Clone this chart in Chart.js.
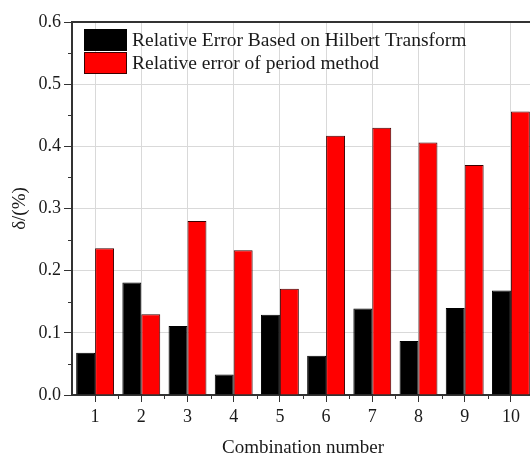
<!DOCTYPE html>
<html>
<head>
    <title>Relative error chart</title>
    <meta charset="UTF-8">
    <script src="https://cdn.jsdelivr.net/npm/chart.js"></script>
    <style>
        body { margin: 0; overflow: hidden; background: #fff; }
        /* chart is a bit wider than the window, the right edge gets cut like the source */
        #chartContainer { width: 560px; height: 457px; }
    </style>
</head>
<body>
    <div id="chartContainer">
        <canvas id="barChart"></canvas>
    </div>

    <script>
        var categories = ['1', '2', '3', '4', '5', '6', '7', '8', '9', '10'];
        var hilbertError = [0.068, 0.181, 0.111, 0.033, 0.129, 0.063, 0.139, 0.087, 0.140, 0.168];
        var periodError = [0.236, 0.130, 0.280, 0.233, 0.171, 0.417, 0.430, 0.406, 0.370, 0.456];
        var yTicks = [0.0, 0.1, 0.2, 0.3, 0.4, 0.5, 0.6];

        var serif = "'Liberation Serif', 'Times New Roman', serif";
        var ink = '#1a1a1a';

        function isMajor(value) {
            return yTicks.indexOf(Math.round(value * 100) / 100) >= 0;
        }

        // legend inside the plot + top frame line + minor ticks on both axes
        var framePlugin = {
            id: 'frame',
            afterDraw: function (chart) {
                var ctx = chart.ctx;
                var area = chart.chartArea;
                var y = chart.scales.y;
                ctx.save();
                ctx.strokeStyle = '#333';
                ctx.lineWidth = 2;
                ctx.beginPath();
                ctx.moveTo(area.left, area.top);
                ctx.lineTo(area.right, area.top);
                ctx.stroke();

                ctx.lineWidth = 1;
                var step = (area.right - area.left) / categories.length;
                for (var k = 1; k < categories.length; k++) {
                    var px = Math.round(area.left + k * step) + 0.5;
                    ctx.beginPath();
                    ctx.moveTo(px, area.bottom);
                    ctx.lineTo(px, area.bottom + 4);
                    ctx.stroke();
                }
                y.ticks.forEach(function (t) {
                    if (isMajor(t.value)) return;
                    var py = Math.round(y.getPixelForValue(t.value)) + 0.5;
                    ctx.beginPath();
                    ctx.moveTo(area.left, py);
                    ctx.lineTo(area.left - 4, py);
                    ctx.stroke();
                });

                // legend
                ctx.font = '19.5px ' + serif;
                ctx.textBaseline = 'middle';
                chart.data.datasets.forEach(function (ds, i) {
                    var bx = area.left + 12;
                    var by = area.top + 7 + i * 23;
                    ctx.fillStyle = ds.backgroundColor;
                    ctx.fillRect(bx, by, 43, 22);
                    ctx.strokeStyle = ds.borderColor;
                    ctx.strokeRect(bx + 0.5, by + 0.5, 42, 21);
                    ctx.fillStyle = ink;
                    ctx.fillText(ds.label, bx + 48, by + 12);
                });
                ctx.restore();
            }
        };

        var ctx = document.getElementById('barChart').getContext('2d');
        var chart = new Chart(ctx, {
            type: 'bar',
            data: {
                labels: categories,
                datasets: [{
                    label: 'Relative Error Based on Hilbert Transform',
                    data: hilbertError,
                    backgroundColor: '#000000',
                    borderColor: '#000000',
                    borderWidth: 1
                }, {
                    label: 'Relative error of period method',
                    data: periodError,
                    backgroundColor: '#ff0000',
                    borderColor: '#3a0000',
                    borderWidth: 1
                }]
            },
            options: {
                responsive: true,
                maintainAspectRatio: false,
                animation: false,
                layout: { padding: { top: 22, right: 26, left: 0, bottom: 0 } },
                datasets: {
                    bar: { categoryPercentage: 0.82, barPercentage: 1.0 }
                },
                plugins: {
                    legend: { display: false },
                    tooltip: { enabled: false }
                },
                scales: {
                    x: {
                        afterFit: function (scale) { scale.height = 62; },
                        grid: {
                            offset: false,
                            color: '#d9d9d9',
                            tickColor: '#333',
                            tickLength: 7
                        },
                        border: { color: '#333', width: 2 },
                        ticks: {
                            color: ink,
                            padding: 4,
                            font: { family: serif, size: 18 }
                        },
                        title: {
                            display: true,
                            text: 'Combination number',
                            color: ink,
                            padding: { top: 0, bottom: 0 },
                            font: { family: serif, size: 19, lineHeight: 0.9 }
                        }
                    },
                    y: {
                        min: 0,
                        max: 0.6,
                        afterFit: function (scale) { scale.width = 72; },
                        ticks: {
                            stepSize: 0.05,
                            color: ink,
                            padding: 3,
                            font: { family: serif, size: 18 },
                            callback: function (value) {
                                return isMajor(value) ? (Math.round(value * 10) / 10).toFixed(1) : '';
                            }
                        },
                        grid: {
                            color: function (c) {
                                return isMajor(c.tick.value) && c.tick.value > 0.001 ? '#d9d9d9' : 'rgba(0,0,0,0)';
                            },
                            tickColor: function (c) {
                                return isMajor(c.tick.value) ? '#333' : 'rgba(0,0,0,0)';
                            },
                            tickLength: 8
                        },
                        border: { color: '#333', width: 2 },
                        title: {
                            display: true,
                            text: 'δ/(%)',
                            color: ink,
                            padding: { top: 9, bottom: 0 },
                            font: { family: serif, size: 19 }
                        }
                    }
                }
            },
            plugins: [framePlugin]
        });
    </script>
</body>
</html>
